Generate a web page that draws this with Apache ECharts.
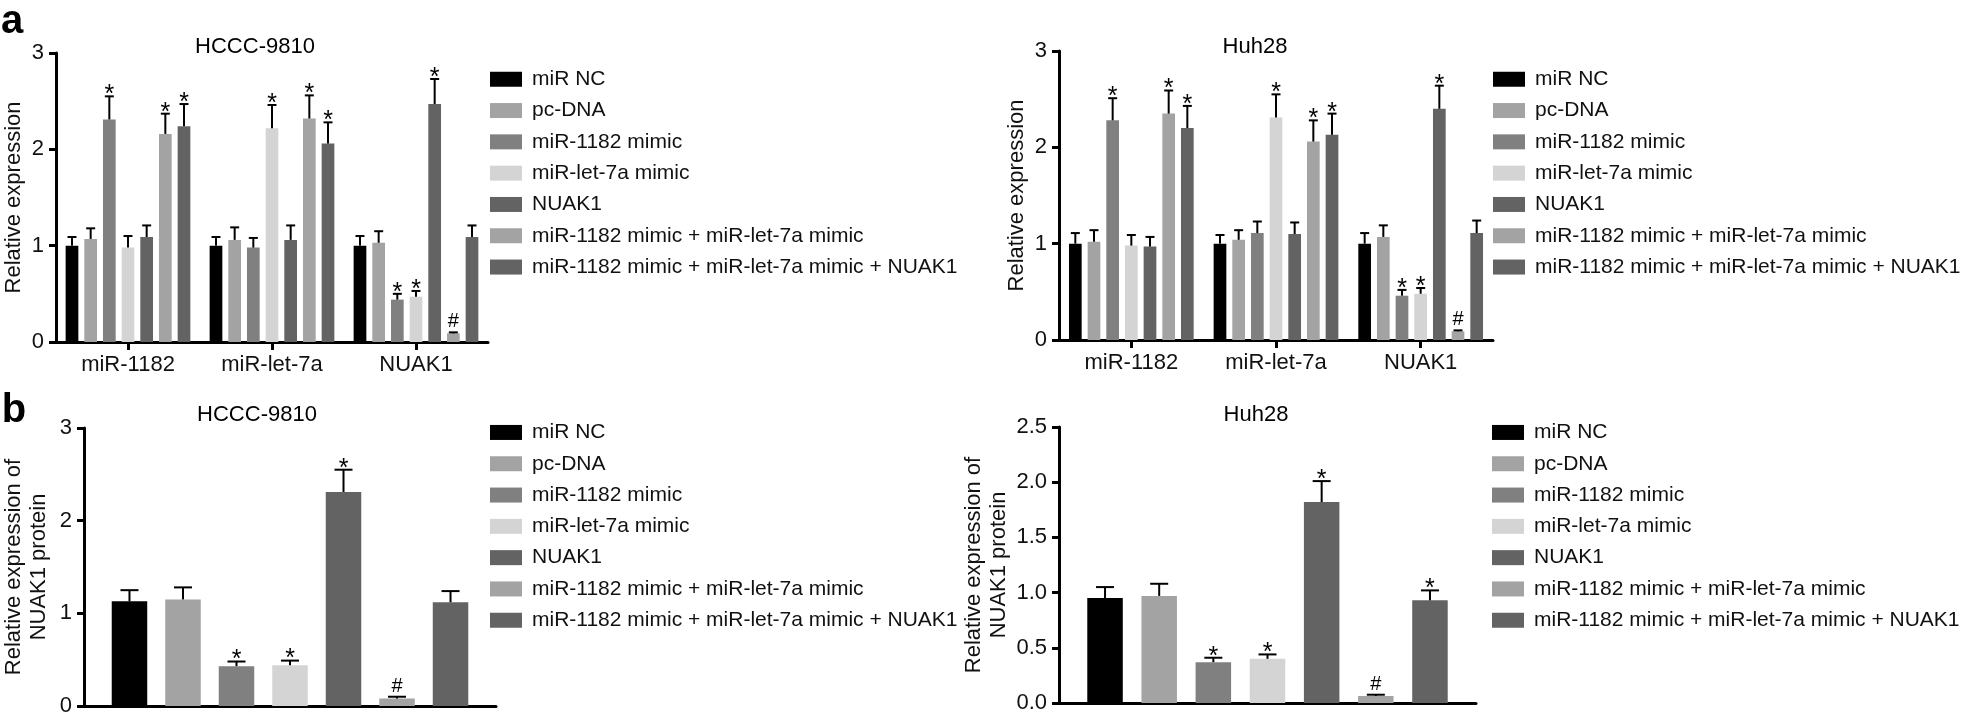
<!DOCTYPE html>
<html><head><meta charset="utf-8">
<script src="https://cdn.jsdelivr.net/npm/echarts@6/dist/echarts.min.js"></script>
<style>html,body{margin:0;padding:0;background:#fff}#c{width:1961px;height:720px}</style>
</head><body><div id="c"></div>
<script>
// ---------- data ----------
const groupNames = ['miR NC', 'pc-DNA', 'miR-1182 mimic', 'miR-let-7a mimic', 'NUAK1',
  'miR-1182 mimic + miR-let-7a mimic', 'miR-1182 mimic + miR-let-7a mimic + NUAK1'];
const genesA = ['miR-1182', 'miR-let-7a', 'NUAK1'];

// panel a, HCCC-9810 (rows = genes, cols = groups)
const hcccA_mean = [
  [1.00, 1.07, 2.31, 0.98, 1.09, 2.16, 2.24],
  [1.00, 1.06, 0.98, 2.22, 1.06, 2.32, 2.06],
  [1.00, 1.03, 0.44, 0.47, 2.47, 0.09, 1.09]];
const hcccA_err = [
  [0.09, 0.11, 0.24, 0.12, 0.12, 0.21, 0.23],
  [0.09, 0.13, 0.10, 0.24, 0.15, 0.24, 0.22],
  [0.10, 0.12, 0.06, 0.06, 0.26, 0.01, 0.12]];
const hcccA_sig = [
  ['', '', '*', '', '', '*', '*'],
  ['', '', '', '*', '', '*', '*'],
  ['', '', '*', '*', '*', '#', '']];

// panel a, Huh28
const huhA_mean = [
  [1.00, 1.02, 2.28, 0.98, 0.97, 2.35, 2.20],
  [1.00, 1.04, 1.11, 2.31, 1.10, 2.06, 2.13],
  [1.00, 1.07, 0.46, 0.48, 2.40, 0.09, 1.11]];
const huhA_err = [
  [0.11, 0.12, 0.23, 0.11, 0.10, 0.24, 0.23],
  [0.09, 0.10, 0.12, 0.24, 0.12, 0.22, 0.22],
  [0.11, 0.12, 0.06, 0.06, 0.24, 0.01, 0.13]];
const huhA_sig = [
  ['', '', '*', '', '', '*', '*'],
  ['', '', '', '*', '', '*', '*'],
  ['', '', '*', '*', '*', '#', '']];

// panel b, NUAK1 protein
const hcccB_mean = [1.13, 1.15, 0.43, 0.44, 2.31, 0.08, 1.12];
const hcccB_err  = [0.12, 0.13, 0.05, 0.05, 0.24, 0.02, 0.12];
const hcccB_sig  = ['', '', '*', '*', '*', '#', ''];
const huhB_mean  = [0.95, 0.97, 0.37, 0.40, 1.82, 0.063, 0.93];
const huhB_err   = [0.10, 0.11, 0.04, 0.04, 0.19, 0.012, 0.09];
const huhB_sig   = ['', '', '*', '*', '*', '#', '*'];

// ---------- styles ----------
const barColors = ['#000000', '#a3a3a3', '#808080', '#d4d4d4', '#636363', '#a3a3a3', '#636363'];
const FONT = '"Liberation Sans", Arial, Helvetica, sans-serif';
const BAR_A = 12.7, GAP_A = 0.47;
const STEP_A = BAR_A * (1 + GAP_A);
const BAR_B = 35.5;

const grids = [
  {left: 55, top: 53, width: 433, height: 289},
  {left: 1059, top: 51, width: 434, height: 289},
  {left: 77, top: 428, width: 419, height: 278},
  {left: 1059, top: 427, width: 417, height: 276}
];

function errRender(step, capHalf, marks) {
  return function (params, api) {
    const c = api.value(0), m = api.value(1), e = api.value(2), k = api.value(3);
    const p0 = api.coord([c, m]);
    const p1 = api.coord([c, m + e]);
    const x = p0[0] + step * (k - 3);
    const children = [
      {type: 'line', shape: {x1: x, y1: p0[1], x2: x, y2: p1[1]}, style: {stroke: '#000', lineWidth: 2}},
      {type: 'line', shape: {x1: x - capHalf, y1: p1[1], x2: x + capHalf, y2: p1[1]}, style: {stroke: '#000', lineWidth: 2}}
    ];
    const mk = marks[params.dataIndex];
    if (mk) {
      const star = mk === '*';
      children.push({type: 'text', style: {
        text: mk, x: x, y: p1[1] - (star ? 1 : 10.5), align: 'center', verticalAlign: 'middle',
        font: (star ? '25px ' : '20px ') + FONT, fill: '#000'}});
    }
    return {type: 'group', children: children};
  };
}

const series = [];
// panel a
[[hcccA_mean, hcccA_err, hcccA_sig], [huhA_mean, huhA_err, huhA_sig]].forEach(function (d, p) {
  const mean = d[0], err = d[1], sig = d[2];
  groupNames.forEach(function (name, k) {
    series.push({type: 'bar', name: name, xAxisIndex: p, yAxisIndex: p,
      barWidth: BAR_A, barGap: (GAP_A * 100) + '%',
      itemStyle: {color: barColors[k]},
      data: mean.map(function (row) { return row[k]; })});
  });
  const data = [], marks = [];
  mean.forEach(function (row, c) {
    row.forEach(function (v, k) { data.push([c, v, err[c][k], k]); marks.push(sig[c][k]); });
  });
  series.push({type: 'custom', xAxisIndex: p, yAxisIndex: p, z: 5,
    encode: {x: 0, y: 1}, renderItem: errRender(STEP_A, 4.5, marks), data: data});
});
// panel b
[[hcccB_mean, hcccB_err, hcccB_sig], [huhB_mean, huhB_err, huhB_sig]].forEach(function (d, q) {
  const p = q + 2, mean = d[0], err = d[1], sig = d[2];
  groupNames.forEach(function (name, k) {
    series.push({type: 'bar', name: name, xAxisIndex: p, yAxisIndex: p,
      barWidth: BAR_B, barGap: '-100%',
      itemStyle: {color: barColors[k]},
      data: [[k, mean[k]]]});
  });
  const data = mean.map(function (v, k) { return [k, v, err[k], 3]; });
  series.push({type: 'custom', xAxisIndex: p, yAxisIndex: p, z: 5,
    encode: {x: 0, y: 1}, renderItem: errRender(0, 9, sig), data: data});
});

const axisLineStyle = {color: '#000', width: 3};
function yAxis(gi, max, interval, name, gap, fmt) {
  return {type: 'value', gridIndex: gi, min: 0, max: max, interval: interval,
    name: name, nameLocation: 'middle', nameRotate: 90, nameGap: gap,
    nameTextStyle: {fontSize: 22, fontFamily: FONT, color: '#111', lineHeight: 25},
    axisLine: {show: true, onZero: false, lineStyle: axisLineStyle},
    axisTick: {show: true, length: 7, lineStyle: {color: '#000', width: 3}},
    axisLabel: {fontSize: 22, fontFamily: FONT, color: '#111', margin: 12, formatter: fmt},
    splitLine: {show: false}};
}
function xCat(gi) {
  return {type: 'category', gridIndex: gi, data: genesA,
    axisLine: {show: true, lineStyle: axisLineStyle},
    axisTick: {show: true, alignWithLabel: true, length: 8, lineStyle: {color: '#000', width: 3}},
    axisLabel: {fontSize: 22, fontFamily: FONT, color: '#111', margin: 12}};
}
function xVal(gi) {
  return {type: 'value', gridIndex: gi, min: -0.85, max: 6.85,
    axisLine: {show: true, onZero: true, lineStyle: axisLineStyle},
    axisTick: {show: false}, axisLabel: {show: false}, splitLine: {show: false}};
}
function legend(left, top) {
  return {data: groupNames, orient: 'vertical', left: left, top: top, padding: 0,
    itemWidth: 32, itemHeight: 15, itemGap: 0, icon: 'rect', selectedMode: false,
    textStyle: {fontSize: 21, fontFamily: FONT, color: '#111', lineHeight: 31.3, padding: [0, 0, 0, 5]}};
}
function txt(s, x, y, size, bold) {
  return {type: 'text', x: x, y: y, style: {text: s, align: 'center', verticalAlign: 'middle',
    font: (bold ? 'bold ' : '') + size + 'px ' + FONT, fill: '#000'}};
}

const option = {
  animation: false,
  backgroundColor: '#fff',
  grid: grids,
  xAxis: [xCat(0), xCat(1), xVal(2), xVal(3)],
  yAxis: [
    yAxis(0, 3, 1, 'Relative expression', 30),
    yAxis(1, 3, 1, 'Relative expression', 30),
    yAxis(2, 3, 1, 'Relative expression of\nNUAK1 protein', 33),
    yAxis(3, 2.5, 0.5, 'Relative expression of\nNUAK1 protein', 48, function (v) { return v.toFixed(1); })
  ],
  legend: [legend(490, 63.6), legend(1493, 63.6), legend(490, 416.8), legend(1492, 416.8)],
  graphic: [
    txt('a', 12, 22, 40, true),
    txt('b', 14, 411, 40, true),
    txt('HCCC-9810', 255, 47, 22),
    txt('Huh28', 1255, 47, 22),
    txt('HCCC-9810', 257, 415, 22),
    txt('Huh28', 1256, 415, 22)
  ],
  series: series
};
const chart = echarts.init(document.getElementById('c'), null, {renderer: 'canvas'});
chart.setOption(option);
</script></body></html>
